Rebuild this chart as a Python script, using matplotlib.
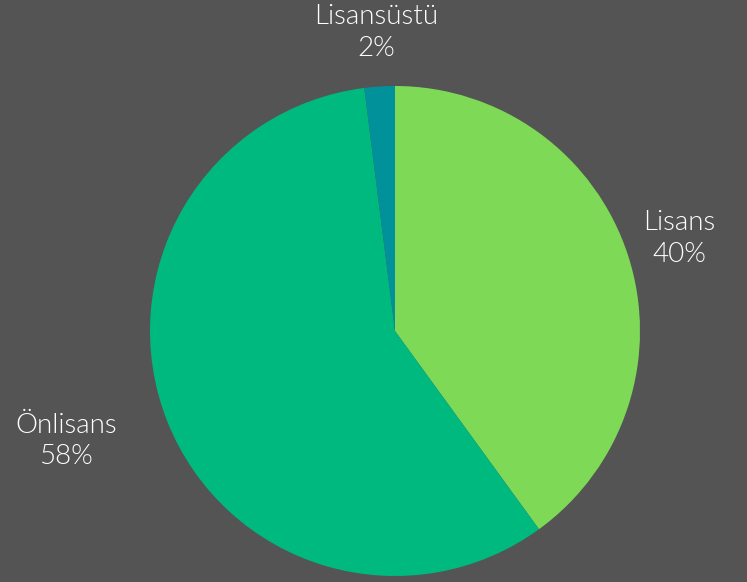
import matplotlib.pyplot as plt
import numpy as np

labels = ["Lisans", "Önlisans", "Lisansüstü"]
shares = [40, 58, 2]
colors = ["#7ED957", "#00B97E", "#00919B"]
bg = "#545454"

fig = plt.figure(figsize=(7.47, 5.82), dpi=100, facecolor=bg)
# pie centre at (395, 331) px, radius about 245 px
ax = fig.add_axes([(395 - 245) / 747, (582 - 331 - 245) / 582, 490 / 747, 490 / 582])
ax.set_facecolor(bg)

wedges, _ = ax.pie(shares, colors=colors, startangle=90, counterclock=False,
                   radius=1, wedgeprops=dict(linewidth=0))

aligns = ["center", "right", "center"]
for w, lab, val, ha in zip(wedges, labels, shares, aligns):
    ang = np.deg2rad((w.theta1 + w.theta2) / 2)
    x, y = 1.22 * np.cos(ang), 1.22 * np.sin(ang)
    ax.text(x, y, f"{lab}\n{val}%", ha=ha, va="center", multialignment="center",
            color="white", fontsize=20, family=["Lato", "DejaVu Sans"],
            fontweight=300, linespacing=1.33, clip_on=False)

ax.set_xlim(-1, 1)
ax.set_ylim(-1, 1)
ax.axis("off")

fig.savefig("out.png", dpi=100, facecolor=bg)
